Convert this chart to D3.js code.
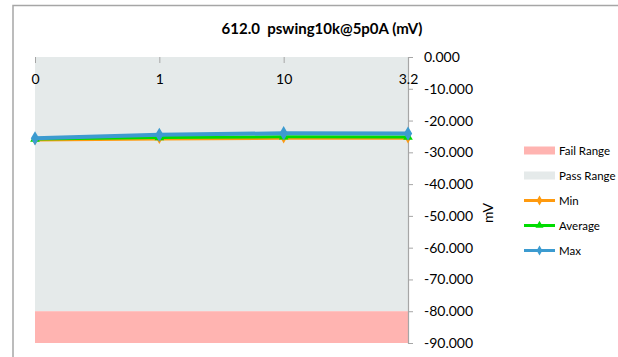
<!DOCTYPE html>
<html><head><meta charset="utf-8">
<script src="https://cdn.jsdelivr.net/npm/d3@7"></script>
<style>body{margin:0;background:#fff;font-family:Lato,sans-serif;} text{white-space:pre;}</style>
</head><body><svg id="c" width="618" height="357"></svg>
<script>
const categories = ["0", "1", "10", "3.2"];
const minValues = [-26.1, -25.8, -25.6, -25.6];
const avgValues = [-25.8, -25.3, -25.1, -25.2];
const maxValues = [-25.6, -24.5, -24.0, -24.1];
const passRange = [-80, 0];
const failRange = [-90, -80];
const yTicks = [0, -10, -20, -30, -40, -50, -60, -70, -80, -90];
const title = "612.0  pswing10k@5p0A (mV)";
const yLabel = "mV";

const svg = d3.select("#c");
const font = 'Lato,sans-serif';
const L = 35, R = 408, T = 57, B = 343;

svg.append("rect").attr("x",13).attr("y",5.5).attr("width",700).attr("height",400)
  .attr("fill","#fff").attr("stroke","#a6a6a6").attr("stroke-width",1.5);

const x = d3.scalePoint().domain(categories).range([L, R]);
const y = d3.scaleLinear().domain([-90, 0]).range([B, T]);

svg.append("rect").attr("x",L).attr("width",R-L).attr("y",y(passRange[1])).attr("height",y(passRange[0])-y(passRange[1])).attr("fill","#e5eaea");
svg.append("rect").attr("x",L).attr("width",R-L).attr("y",y(failRange[1])).attr("height",y(failRange[0])-y(failRange[1])).attr("fill","#ffb4b1");

// right axis
const ax = svg.append("g").attr("transform",`translate(${R},0)`)
  .call(d3.axisRight(y).tickValues(yTicks).tickSize(5).tickPadding(11));
ax.select(".domain").attr("stroke","#a6a6a6").attr("stroke-width",1.2);
ax.selectAll(".tick line").attr("stroke","#a6a6a6");
ax.selectAll("text").attr("font-size",14).attr("font-family",font).attr("fill","#000")
  .text(d => d3.format(".3f")(d).replace("−","-"));

// category ticks along top
const cx = svg.append("g").attr("transform",`translate(0,${T})`)
  .call(d3.axisTop(x).tickSize(0).tickPadding(0));
cx.select(".domain").remove();
cx.selectAll(".tick line").remove();
cx.selectAll(".tick").append("line").attr("y1",0).attr("y2",6).attr("stroke","#a6a6a6");
cx.selectAll("text").attr("font-size",14).attr("font-family",font).attr("fill","#000").attr("y",27);

svg.append("text").attr("x",322).attr("y",34).attr("text-anchor","middle")
  .attr("font-size",15).attr("font-weight","bold").attr("font-family",font).text(title);
svg.append("text").attr("transform","translate(493,213) rotate(-90)").attr("text-anchor","middle")
  .attr("font-size",14).attr("font-family",font).text(yLabel);

const series = [
  {name:"Min", vals:minValues, color:"#ff9a0e", w:3, shape:d3.symbolDiamond, size:30},
  {name:"Average", vals:avgValues, color:"#00dc00", w:3, shape:d3.symbolTriangle, size:40},
  {name:"Max", vals:maxValues, color:"#3c9bd0", w:4, shape:d3.symbolDiamond, size:60}
];
const line = d3.line().x((d,i)=>x(categories[i])).y(d=>y(d));
series.forEach(s => {
  svg.append("path").datum(s.vals).attr("d",line).attr("fill","none").attr("stroke",s.color).attr("stroke-width",s.w);
  svg.selectAll(null).data(s.vals).enter().append("path")
    .attr("d",d3.symbol().type(s.shape).size(s.size))
    .attr("transform",(d,i)=>`translate(${x(categories[i])},${y(d)})`).attr("fill",s.color);
});

// legend
const lg = svg.append("g").attr("font-family",font).attr("font-size",11.5);
const lx = 524, lw = 31;
const items = [
  {name:"Fail Range", type:"rect", color:"#ffb4b1"},
  {name:"Pass Range", type:"rect", color:"#e5eaea"},
  ...series.map(s=>({name:s.name, type:"line", color:s.color, shape:s.shape, w:s.w}))
];
items.forEach((it,i) => {
  const yy = 150.5 + i*25;
  if (it.type === "rect") {
    lg.append("rect").attr("x",lx).attr("y",yy-4).attr("width",lw).attr("height",8).attr("fill",it.color);
  } else {
    lg.append("line").attr("x1",lx).attr("x2",lx+lw).attr("y1",yy).attr("y2",yy).attr("stroke",it.color).attr("stroke-width",3);
    lg.append("path").attr("d",d3.symbol().type(it.shape).size(28)).attr("transform",`translate(${lx+lw/2},${yy})`).attr("fill",it.color);
  }
  lg.append("text").attr("x",lx+lw+4).attr("y",yy+4).text(it.name);
});
</script></body></html>
